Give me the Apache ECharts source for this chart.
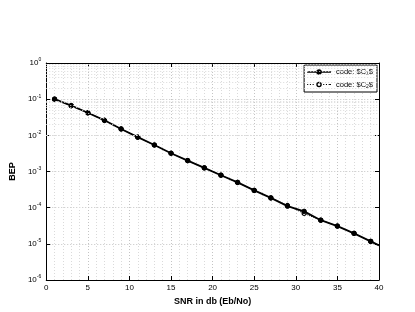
<!DOCTYPE html>
<html><head><meta charset="utf-8">
<script src="https://cdn.jsdelivr.net/npm/echarts@6/dist/echarts.min.js"></script>
<style>html,body{margin:0;padding:0;background:#fff}#c{width:415px;height:312px}</style>
</head><body><div id="c"></div>
<script>
var snr = [1,3,5,7,9,11,13,15,17,19,21,23,25,27,29,31,33,35,37,39,40];
var bepC1 = [1.0e-1,6.6e-2,4.2e-2,2.6e-2,1.5e-2,8.9e-3,5.4e-3,3.2e-3,2.0e-3,1.26e-3,7.9e-4,5.0e-4,3.0e-4,1.86e-4,1.1e-4,7.9e-5,4.5e-5,3.1e-5,1.95e-5,1.17e-5,9.1e-6];
var bepC2 = [1.0e-1,6.6e-2,4.2e-2,2.6e-2,1.5e-2,8.9e-3,5.4e-3,3.2e-3,2.0e-3,1.26e-3,7.9e-4,5.0e-4,3.0e-4,1.86e-4,1.15e-4,6.9e-5,4.5e-5,3.1e-5,1.95e-5,1.17e-5,9.1e-6];
var xTicks = [0,5,10,15,20,25,30,35,40];
var yExps = [0,-1,-2,-3,-4,-5,-6];

var F = '"Liberation Sans", Arial, Helvetica, sans-serif';
function pts(ys){
  return snr.map(function(x,i){
    var d = {value:[x, ys[i]]};
    if (x === 40) d.symbol = 'none';
    return d;
  });
}
var minorVals = [];
for (var e = -6; e < 0; e++) for (var m = 2; m <= 9; m++) minorVals.push({yAxis: m*Math.pow(10,e)});

// legend icons (line + marker), box 26 x 6
var iconC1 = 'path://M0,2.2H26V3.8H0Z M16,3A3,3,0,1,1,10,3A3,3,0,1,1,16,3Z';
var dots = '';
[0,3,6,17.5,20.5,23.5,24.8].forEach(function(x){ dots += 'M' + x + ',2.4h1.2v1.2h-1.2Z '; });
var iconC2 = 'path://' + dots + 'M16,3A3,3,0,1,1,10,3A3,3,0,1,1,16,3Z M14.5,3A1.5,1.5,0,1,0,11.5,3A1.5,1.5,0,1,0,14.5,3Z';

var chart = echarts.init(document.getElementById('c'), null, {renderer:'canvas'});
chart.setOption({
  animation:false,
  backgroundColor:'#fff',
  grid:{left:41, right:36, top:63, bottom:32, containLabel:false},
  legend:{
    orient:'vertical', right:38, top:65,
    backgroundColor:'#fff', borderColor:'#000', borderWidth:1,
    padding:[3,4,3,3], itemGap:4, itemWidth:24, itemHeight:5.5,
    textStyle:{fontFamily:F, fontSize:7.5, color:'#000',
      rich:{sub:{fontSize:5, verticalAlign:'bottom', fontFamily:F, padding:[4,0,0,0]}}},
    formatter:function(n){ return n === 'C1' ? 'code: $C{sub|1}$' : 'code: $C{sub|2}$'; },
    data:[
      {name:'C1', icon:iconC1, itemStyle:{color:'#000', borderWidth:0}},
      {name:'C2', icon:iconC2, itemStyle:{color:'#000', borderWidth:0}}
    ]
  },
  xAxis:[{
    type:'value', min:0, max:40, interval:5,
    name:'SNR in db (Eb/No)', nameLocation:'middle', nameGap:10,
    nameTextStyle:{fontFamily:F, fontSize:9, fontWeight:'bold', color:'#000'},
    axisLine:{onZero:false, lineStyle:{color:'#000', width:1}},
    axisTick:{inside:true, length:4, lineStyle:{color:'#000'}},
    axisLabel:{fontFamily:F, fontSize:8, color:'#000', margin:4},
    splitLine:{show:true, lineStyle:{color:'#c4c4c4', type:[1,2], width:1}},
    minorTick:{show:false, splitNumber:5},
    minorSplitLine:{show:true, lineStyle:{color:'#dadada', type:[1,2], width:1}}
  },{
    type:'value', min:0, max:40, interval:5, position:'top',
    axisLine:{show:true, onZero:false, lineStyle:{color:'#000'}},
    axisTick:{inside:true, length:4, lineStyle:{color:'#000'}},
    axisLabel:{show:false}, splitLine:{show:false}
  }],
  yAxis:[{
    type:'log', min:1e-6, max:1, logBase:10,
    name:'BEP', nameLocation:'middle', nameGap:27,
    nameTextStyle:{fontFamily:F, fontSize:9, fontWeight:'bold', color:'#000'},
    axisLine:{show:true, onZero:false, lineStyle:{color:'#000'}},
    axisTick:{inside:true, length:4, lineStyle:{color:'#000'}},
    axisLabel:{fontFamily:F, fontSize:8, color:'#000', margin:5,
      formatter:function(v){ var e = Math.round(Math.log10(v)); return '10{sup|' + e + '}'; },
      rich:{sup:{fontSize:5, verticalAlign:'top', fontFamily:F, padding:[0,0,6,0]}}},
    splitLine:{show:true, lineStyle:{color:'#c4c4c4', type:[1,2], width:1}}
  },{
    type:'log', min:1e-6, max:1, logBase:10, position:'right',
    axisLine:{show:true, onZero:false, lineStyle:{color:'#000'}},
    axisTick:{inside:true, length:4, lineStyle:{color:'#000'}},
    axisLabel:{show:false}, splitLine:{show:false}
  }],
  series:[{
    name:'grid', type:'line', data:[], silent:true,
    markLine:{silent:true, symbol:'none', label:{show:false}, animation:false,
      lineStyle:{color:'#dadada', type:[1,2], width:1}, data:minorVals}
  },{
    name:'C2', type:'line', data:pts(bepC2),
    symbol:'circle', symbolSize:4,
    lineStyle:{color:'#000', width:1, type:'dotted'},
    itemStyle:{color:'#fff', borderColor:'#000', borderWidth:1.2}, z:3
  },{
    name:'C1', type:'line', data:pts(bepC1),
    symbol:'circle', symbolSize:4.5,
    lineStyle:{color:'#000', width:1.8},
    itemStyle:{color:'#000', borderColor:'#000', borderWidth:1}, z:4
  }]
});
</script></body></html>
